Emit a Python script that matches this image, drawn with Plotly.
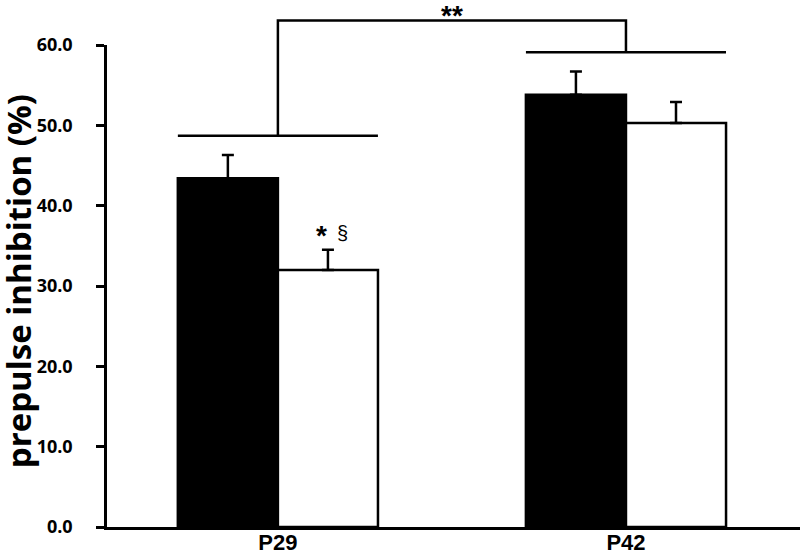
import plotly.graph_objects as go

# ---- data ----
categories = ["P29", "P42"]
black_values = [43.4, 53.8]
black_se = [2.9, 2.9]
white_values = [32.0, 50.3]
white_se = [2.5, 2.6]
y_tick_values = [0, 10, 20, 30, 40, 50, 60]
y_tick_labels = ["0.0", "10.0", "20.0", "30.0", "40.0", "50.0", "60.0"]
y_title = "prepulse inhibition (%)"

# ---- layout constants ----
Y_MAX = 60
X_RANGE = [-0.491, 1.5]
HALF = 0.2874  # half of a bar pair width, in category units

def px_x(v):
    return (v - X_RANGE[0]) / (X_RANGE[1] - X_RANGE[0])

def px_y(v):
    return v / Y_MAX

fig = go.Figure()
fig.add_trace(go.Bar(
    x=categories, y=black_values, name="black",
    marker=dict(color="black", line=dict(color="black", width=2.5)),
    error_y=dict(type="data", array=black_se, arrayminus=[0, 0], symmetric=False,
                 color="black", thickness=2.5, width=6),
))
fig.add_trace(go.Bar(
    x=categories, y=white_values, name="white",
    marker=dict(color="white", line=dict(color="black", width=2.5)),
    error_y=dict(type="data", array=white_se, arrayminus=[0, 0], symmetric=False,
                 color="black", thickness=2.5, width=6),
))

line = dict(color="black", width=2.5)
shapes = []
b1 = 48.7
shapes.append(dict(type="line", xref="paper", yref="paper",
                   x0=px_x(0 - HALF), x1=px_x(0 + HALF), y0=px_y(b1), y1=px_y(b1), line=line))
b2 = 59.1
shapes.append(dict(type="line", xref="paper", yref="paper",
                   x0=px_x(1 - HALF), x1=px_x(1 + HALF), y0=px_y(b2), y1=px_y(b2), line=line))
top = 63.05
shapes.append(dict(type="path", xref="paper", yref="paper",
                   path=f"M {px_x(0)},{px_y(b1)} L {px_x(0)},{px_y(top)} L {px_x(1)},{px_y(top)} L {px_x(1)},{px_y(b2)}",
                   line=line))

annotations = [
    dict(text="**", xref="paper", yref="paper", x=px_x(0.5), y=px_y(65.85),
         showarrow=False, font=dict(family="Liberation Sans", size=28, color="black", weight="bold")),
    dict(text="*", xref="x", yref="y", x=0.124, y=36.3, showarrow=False,
         font=dict(family="Liberation Sans", size=28, color="black", weight="bold")),
    dict(text="§", xref="x", yref="y", x=0.187, y=36.6, showarrow=False,
         font=dict(family="Liberation Sans", size=20, color="black")),
    # y-axis title
    dict(text=y_title, xref="paper", yref="paper", x=(18 - 107) / 693, y=0.51,
         xanchor="center", yanchor="middle", textangle=-90, showarrow=False,
         font=dict(family="Open Sans", size=33, color="black", weight="bold")),
]

fig.update_layout(
    width=800, height=555,
    margin=dict(l=107, r=0, t=45, b=28),
    paper_bgcolor="white", plot_bgcolor="white",
    barmode="group", bargap=0.425, bargroupgap=0,
    showlegend=False,
    shapes=shapes, annotations=annotations,
    xaxis=dict(range=X_RANGE, showline=True, linecolor="black", linewidth=2.5,
               ticks="", showgrid=False, zeroline=False, automargin=False,
               ticklabelstandoff=-6,
               tickfont=dict(family="Liberation Sans", size=22, color="black", weight="bold")),
    yaxis=dict(range=[0, Y_MAX], showline=True, linecolor="black", linewidth=2.5,
               tickvals=y_tick_values, ticktext=y_tick_labels,
               ticks="outside", ticklen=8, tickwidth=2.5, tickcolor="black",
               showgrid=False, zeroline=False, ticklabelstandoff=20, automargin=False,
               tickfont=dict(family="Open Sans", size=18, color="black", weight="bold")),
)

fig.write_html("out.html", config={"displayModeBar": False},
               post_script="document.body.style.margin='0px';")
